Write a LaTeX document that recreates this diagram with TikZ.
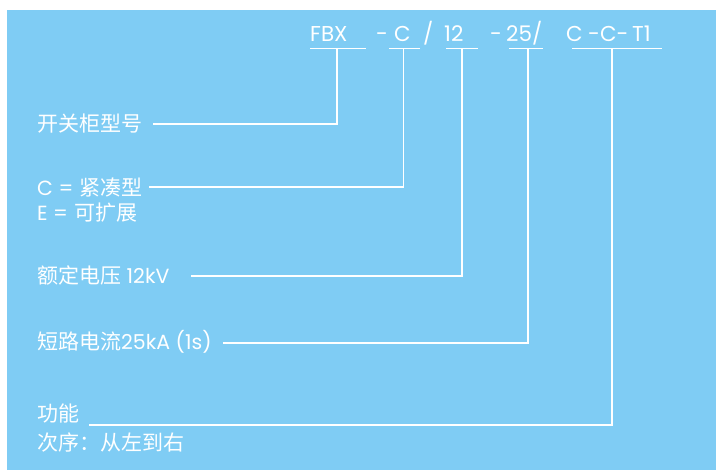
\documentclass[tikz,border=0pt]{standalone}
\usepackage{fontspec}
\setmainfont{Poppins}
\newfontfamily\cjk{Noto Sans CJK SC}
\definecolor{bgblue}{RGB}{127,204,244}
\newcommand{\zh}[1]{{\cjk\fontsize{21}{23}\selectfont #1}}
\tikzset{
  code/.style={text=white, inner sep=0pt, anchor=base west, font=\fontsize{21.5}{24}\selectfont},
  lab/.style={text=white, inner sep=0pt, anchor=west, font=\fontsize{20.5}{24}\selectfont},
  wline/.style={draw=white, line width=1.7pt},
}
\begin{document}
\begin{tikzpicture}[x=1pt,y=-1pt]
\useasboundingbox (0,0) rectangle (716,470);
\fill[bgblue] (7,10) rectangle (716,470);
% top code pieces
\node[code] (fbx) at (310,42) {FBX};
\node[code] (d1) at (376,42) {-};
\node[code] (c1) at (394,42) {C};
\node[code] (sl1) at (423,42) {/};
\node[code] (n12) at (444,42) {12};
\node[code] (d2) at (490,42) {-};
\node[code] (n25) at (506,42) {25/};
\node[code] (c2) at (566,42) {C};
\node[code] (cc) at (588,42) {-C-};
\node[code] (t1) at (632,42) {T1};
% underlines
\coordinate (u1a) at (310,48.5); \coordinate (u1b) at (366,48.5);
\coordinate (u2a) at (389,48.5); \coordinate (u2b) at (420,48.5);
\coordinate (u3a) at (446,48.5); \coordinate (u3b) at (478,48.5);
\coordinate (u4a) at (509,48.5); \coordinate (u4b) at (543,48.5);
\coordinate (u5a) at (572,48.5); \coordinate (u5b) at (662,48.5);
\draw[wline] (u1a) -- (u1b);
\draw[wline] (u2a) -- (u2b);
\draw[wline] (u3a) -- (u3b);
\draw[wline] (u4a) -- (u4b);
\draw[wline] (u5a) -- (u5b);
% labels
\node[lab] (l1) at (37,124) {\zh{开关柜型号}};
\node[lab] (l2) at (37,187) {C =\hspace{0.3em}\zh{紧凑型}};
\node[lab] (l3) at (37,213) {E =\hspace{0.3em}\zh{可扩展}};
\node[lab] (l4) at (37,275) {\zh{额定电压} 12kV};
\node[lab] (l5) at (37,342) {\zh{短路电流}25kA (1s)};
\node[lab] (l6) at (37,414) {\zh{功能}};
\node[lab] (l7) at (37,443) {\zh{次序：从左到右}};
% connector ends
\coordinate (k1) at (336.7,48.5); \coordinate (s1) at (153,124);
\coordinate (k2) at (403.5,48.5); \coordinate (s2) at (149,187);
\coordinate (k3) at (462,48.5); \coordinate (s3) at (191,276);
\coordinate (k4) at (528,48.5); \coordinate (s4) at (223,342.7);
\coordinate (k5) at (612,48.5); \coordinate (s5) at (89,425);
\draw[wline] (k1) |- (s1);
\draw[wline] (k2) |- (s2);
\draw[wline] (k3) |- (s3);
\draw[wline] (k4) |- (s4);
\draw[wline] (k5) |- (s5);
\end{tikzpicture}
\end{document}
